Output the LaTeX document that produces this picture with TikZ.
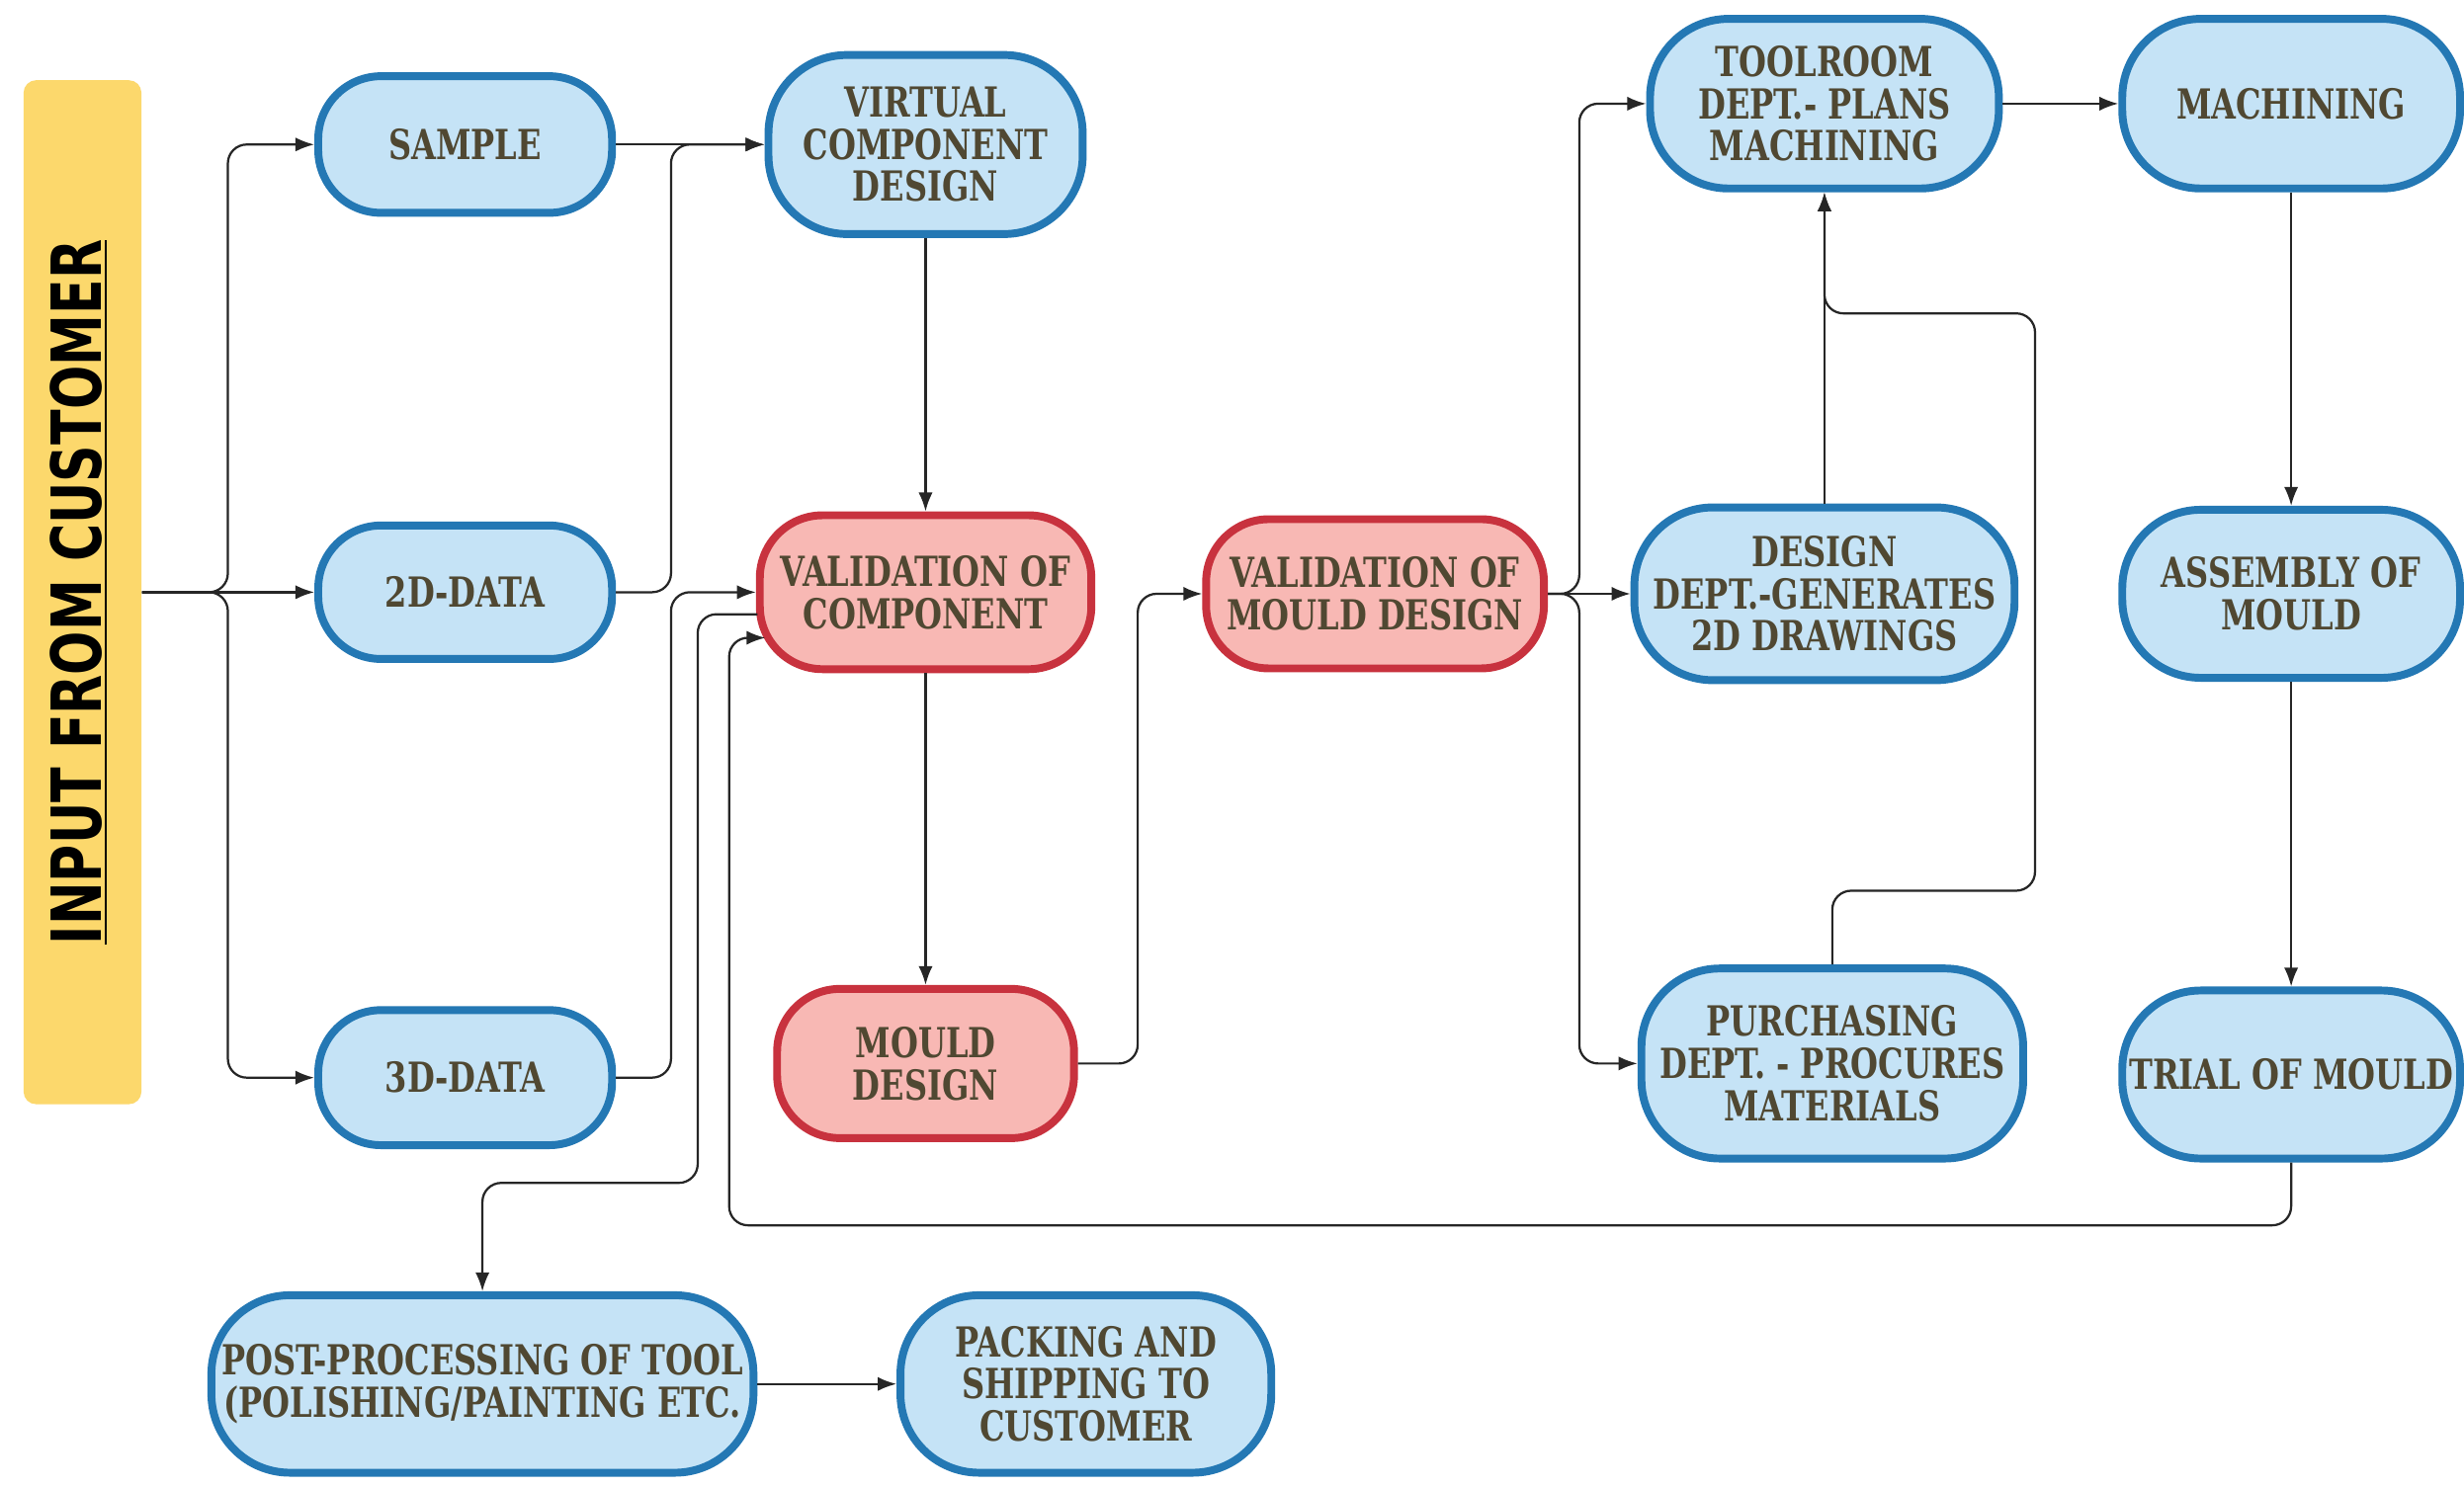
\documentclass[tikz,border=0pt]{standalone}
\usepackage{fontspec}
\newfontfamily\nodefont[FakeStretch=0.85]{DejaVu Serif Condensed}
\newfontfamily\inputfont[FakeStretch=0.83]{DejaVu Sans Condensed}
\usetikzlibrary{arrows.meta,calc}
\definecolor{bblue}{RGB}{36,120,180}
\definecolor{bfill}{RGB}{197,227,246}
\definecolor{rred}{RGB}{200,50,62}
\definecolor{rfill}{RGB}{248,184,180}
\definecolor{inyellow}{RGB}{252,216,108}
\definecolor{txt}{RGB}{80,72,50}
\tikzset{
  box/.style={rectangle, rounded corners=0.8cm, draw=bblue, fill=bfill, line width=1mm,
    align=center, text=txt, inner sep=1pt,
    font=\nodefont\bfseries\fontsize{15}{15.3}\selectfont},
  tallbox/.style={box, rounded corners=1cm},
  redbox/.style={box, draw=rred, fill=rfill},
  conn/.style={draw=black!85, line width=0.8pt, rounded corners=0.24cm,
    -{Latex[length=2.4mm,width=1.8mm]}},
  plain/.style={draw=black!85, line width=0.8pt, rounded corners=0.24cm}
}
\begin{document}
\begin{tikzpicture}[x=0.02cm,y=-0.02cm]
\useasboundingbox (0,0) rectangle (1568,946.5);
\fill[white] (0,0) rectangle (1568,946.5);

% input bar
\node[rectangle, rounded corners=0.16cm, fill=inyellow, minimum width=1.5cm, minimum height=13.04cm, inner sep=0pt] (in) at (52.5,377) {};
\node[rotate=90, font=\inputfont\bfseries\fontsize{25}{25}\selectfont, text=black, inner sep=0pt] (intext) at (50,377) {\underline{INPUT FROM CUSTOMER}};

% column 1
\node[box, minimum width=3.74cm, minimum height=1.74cm] (sample) at (296,92) {SAMPLE};
\node[box, minimum width=3.74cm, minimum height=1.70cm] (d2) at (296,377) {2D-DATA};
\node[box, minimum width=3.74cm, minimum height=1.72cm] (d3) at (296,686) {3D-DATA};

% column 2
\node[tallbox, minimum width=4.0cm, minimum height=2.28cm] (vcd) at (589,92) {VIRTUAL\\COMPONENT\\DESIGN};
\node[redbox, minimum width=4.22cm, minimum height=1.96cm] (vc) at (589,377) {VALIDATION OF\\COMPONENT};
\node[redbox, minimum width=3.78cm, minimum height=1.9cm] (md) at (589,677) {MOULD\\DESIGN};

% column 3
\node[redbox, minimum width=4.3cm, minimum height=1.9cm] (vmd) at (875,378) {VALIDATION OF\\MOULD DESIGN};

% column 4
\node[tallbox, minimum width=4.44cm, minimum height=2.16cm] (tr) at (1161,66) {TOOLROOM\\DEPT.- PLANS\\MACHINING};
\node[tallbox, minimum width=4.84cm, minimum height=2.2cm] (dd) at (1161,378) {DESIGN\\DEPT.-GENERATES\\2D DRAWINGS};
\node[tallbox, minimum width=4.86cm, minimum height=2.42cm] (pur) at (1166,677) {PURCHASING\\DEPT. - PROCURES\\MATERIALS};

% column 5
\node[tallbox, minimum width=4.3cm, minimum height=2.16cm] (mach) at (1458,66) {MACHINING};
\node[tallbox, minimum width=4.3cm, minimum height=2.14cm] (asm) at (1458,378) {ASSEMBLY OF\\MOULD};
\node[tallbox, minimum width=4.3cm, minimum height=2.14cm] (trial) at (1458,684) {TRIAL OF MOULD};

% bottom row
\node[tallbox, minimum width=6.9cm, minimum height=2.26cm, inner xsep=0pt] (post) at (307,881) {POST-PROCESSING OF TOOL\\(POLISHING/PAINTING ETC.};
\node[tallbox, minimum width=4.72cm, minimum height=2.26cm] (pack) at (691,881) {PACKING AND\\SHIPPING TO\\CUSTOMER};

% connectors
\draw[conn] (in.east) -- (145,377) |- (sample.west);
\draw[conn] (in.east) -- (d2.west);
\draw[conn] (in.east) -- (145,377) |- (d3.west);

\draw[conn] (sample.east) -- (vcd.west);
\draw[conn] (d2.east) -- (427,377) |- (vcd.west);
\draw[conn] (d3.east) -- (427,686) |- (vc.west);

\draw[conn] ($(vc.west)+(1,14)$) -| (444,753) -| (post.north);
\draw[conn] (trial.south) |- (464,780) |- ($(vc.west)+(6,29)$);

\draw[conn] (vcd.south) -- (vc.north);
\draw[conn] (vc.south) -- (md.north);
\draw[conn] (md.east) -- (724,677) |- (vmd.west);

\draw[conn] (vmd.east) -- (1005,378) |- (tr.west);
\draw[conn] (vmd.east) -- (dd.west);
\draw[conn] (vmd.east) -- (1005,378) |- (pur.west);

\draw[conn] (tr.east) -- (mach.west);
\draw[conn] (dd.north) -- (tr.south);
\draw[conn] (pur.north) |- (1295,567) |- ($(tr.south)+(0,77)$) -- (tr.south);

\draw[conn] (mach.south) -- (asm.north);
\draw[conn] (asm.south) -- (trial.north);
\draw[conn] (post.east) -- (pack.west);
\end{tikzpicture}
\end{document}
